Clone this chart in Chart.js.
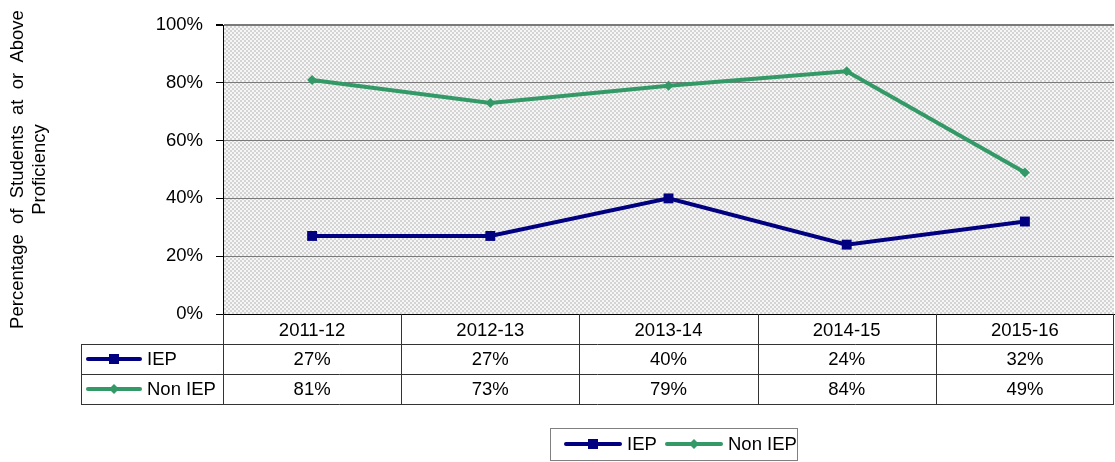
<!DOCTYPE html>
<html>
<head>
<meta charset="utf-8">
<script src="https://cdn.jsdelivr.net/npm/chart.js@4/dist/chart.umd.min.js"></script>
<style>
  html, body { margin: 0; padding: 0; background: #fff; overflow: hidden; }
  #wrap { width: 1115px; height: 462px; position: relative; }
  #chart { display: block; }
</style>
</head>
<body>
<div id="wrap"><canvas id="chart"></canvas></div>
<script>
// data
const years = ['2011-12', '2012-13', '2013-14', '2014-15', '2015-16'];
const iepValues = [27, 27, 40, 24, 32];
const nonIepValues = [81, 73, 79, 84, 49];
const seriesNames = ['IEP', 'Non IEP'];
const yTitle = ['Percentage  of  Students  at  or  Above', 'Proficiency'];

const FONT = '"Liberation Sans", Arial, sans-serif';
const FONT_SIZE = 18.5;
const IEP_COLOR = '#000080';
const NON_IEP_COLOR = '#339966';

// dotted grey fill of the plot area
function makePattern(ctx) {
    const c = document.createElement('canvas');
    c.width = 4; c.height = 4;
    const p = c.getContext('2d');
    p.fillStyle = '#f6f6f6';
    p.fillRect(0, 0, 4, 4);
    p.fillStyle = '#d4d4d4';
    p.fillRect(0, 0, 2, 2);
    p.fillRect(2, 2, 2, 2);
    return ctx.createPattern(c, 'repeat');
}

function drawMarker(ctx, style, x, y, color) {
    ctx.save();
    ctx.fillStyle = color;
    ctx.beginPath();
    if (style === 'rect') {
        ctx.rect(x - 5, y - 5, 10, 10);
    } else {
        ctx.moveTo(x, y - 5);
        ctx.lineTo(x + 5, y);
        ctx.lineTo(x, y + 5);
        ctx.lineTo(x - 5, y);
        ctx.closePath();
    }
    ctx.fill();
    ctx.restore();
}

function drawKey(ctx, x1, x2, y, color, style) {
    ctx.save();
    ctx.strokeStyle = color;
    ctx.lineWidth = 4;
    ctx.lineCap = 'round';
    ctx.beginPath();
    ctx.moveTo(x1, y);
    ctx.lineTo(x2, y);
    ctx.stroke();
    ctx.restore();
    drawMarker(ctx, style, (x1 + x2) / 2, y, color);
}

const plotBackground = {
    id: 'plotBackground',
    beforeDraw(chart) {
        const { ctx, chartArea: a } = chart;
        ctx.save();
        ctx.fillStyle = makePattern(ctx);
        ctx.fillRect(a.left, a.top, a.right - a.left, a.bottom - a.top);
        ctx.restore();
    }
};

// data table under the plot plus the bottom legend
const dataTable = {
    id: 'dataTable',
    afterDraw(chart) {
        const { ctx, chartArea: a, scales } = chart;
        const x = scales.x;
        const rowH = 30;
        const top = Math.round(a.bottom);
        const tableLeft = 81;
        const colW = (a.right - a.left) / years.length;
        const rows = [
            { name: seriesNames[0], values: iepValues, color: IEP_COLOR, style: 'rect' },
            { name: seriesNames[1], values: nonIepValues, color: NON_IEP_COLOR, style: 'rectRot' }
        ];

        ctx.save();
        ctx.strokeStyle = '#333';
        ctx.lineWidth = 1;
        ctx.beginPath();
        for (let r = 1; r <= rows.length + 1; r++) {
            const y = top + rowH * r + 0.5;
            ctx.moveTo(tableLeft, y);
            ctx.lineTo(a.right, y);
        }
        ctx.moveTo(tableLeft + 0.5, top + rowH);
        ctx.lineTo(tableLeft + 0.5, top + rowH * 3 + 1);
        for (let i = 0; i <= years.length; i++) {
            const xx = Math.round(a.left + colW * i) + (i === years.length ? -0.5 : 0.5);
            ctx.moveTo(xx, top);
            ctx.lineTo(xx, top + rowH * 3 + 1);
        }
        ctx.stroke();

        ctx.font = FONT_SIZE + 'px ' + FONT;
        ctx.textBaseline = 'middle';
        rows.forEach((row, r) => {
            const cy = top + rowH * (r + 1) + rowH / 2;
            drawKey(ctx, 88, 140, cy, row.color, row.style);
            ctx.fillStyle = '#000';
            ctx.textAlign = 'left';
            ctx.fillText(row.name, 147, cy + 1);
            ctx.textAlign = 'center';
            row.values.forEach((v, i) => {
                ctx.fillText(v + '%', x.getPixelForValue(i), cy + 1);
            });
        });

        // bottom legend
        ctx.strokeStyle = '#808080';
        ctx.strokeRect(550.5, 428.5, 247, 32);
        rows.forEach((row, r) => {
            const x0 = r === 0 ? 566 : 667;
            drawKey(ctx, x0, x0 + 54, 444, row.color, row.style);
            ctx.fillStyle = '#000';
            ctx.textAlign = 'left';
            ctx.fillText(row.name, x0 + 61, 445);
        });
        ctx.restore();
    }
};

new Chart(document.getElementById('chart'), {
    type: 'line',
    data: {
        labels: years,
        datasets: [
            {
                label: seriesNames[0],
                data: iepValues,
                borderColor: IEP_COLOR,
                backgroundColor: IEP_COLOR,
                borderWidth: 4,
                pointStyle: 'rect',
                pointRadius: 7,
                pointBorderWidth: 0,
                tension: 0
            },
            {
                label: seriesNames[1],
                data: nonIepValues,
                borderColor: NON_IEP_COLOR,
                backgroundColor: NON_IEP_COLOR,
                borderWidth: 4,
                pointStyle: 'rectRot',
                pointRadius: 5,
                pointBorderWidth: 0,
                tension: 0
            }
        ]
    },
    options: {
        responsive: true,
        maintainAspectRatio: false,
        animation: false,
        events: [],
        layout: {
            autoPadding: false,
            padding: { left: 0, right: 1, top: 25, bottom: 118 }
        },
        plugins: {
            legend: { display: false },
            tooltip: { enabled: false }
        },
        scales: {
            x: {
                offset: true,
                grid: { display: false, drawTicks: false },
                border: { display: true, color: '#000', width: 1 },
                ticks: {
                    color: '#000',
                    padding: 6,
                    maxRotation: 0,
                    font: { family: FONT, size: FONT_SIZE }
                },
                afterFit(scale) {
                    scale.height = 30;
                    scale.paddingLeft = 0;
                    scale.paddingRight = 0;
                }
            },
            y: {
                min: 0,
                max: 100,
                ticks: {
                    stepSize: 20,
                    color: '#000',
                    padding: 13,
                    font: { family: FONT, size: FONT_SIZE },
                    callback: v => v + '%'
                },
                grid: {
                    color: c => c.tick && c.tick.value === 0 ? '#000' : '#7a7a7a',
                    lineWidth: c => c.tick && c.tick.value === 100 ? 2 : 1,
                    tickColor: '#000',
                    tickLength: 7
                },
                border: { display: true, color: '#000', width: 1 },
                title: {
                    display: true,
                    text: yTitle,
                    color: '#000',
                    padding: { top: 7, bottom: 0 },
                    font: { family: FONT, size: FONT_SIZE, lineHeight: 1.19 }
                },
                afterFit(scale) { scale.width = 223; }
            }
        }
    },
    plugins: [plotBackground, dataTable]
});
</script>
</body>
</html>
